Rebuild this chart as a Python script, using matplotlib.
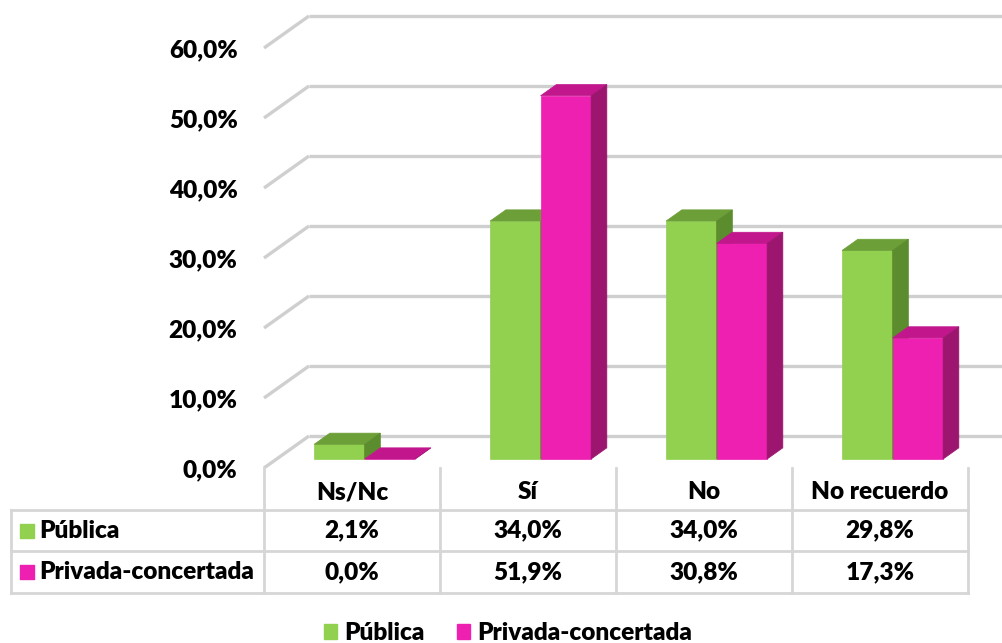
import matplotlib
matplotlib.use("Agg")
import matplotlib.pyplot as plt
from matplotlib.patches import Polygon, Patch

plt.rcParams["font.family"] = ["Lato", "DejaVu Sans"]
plt.rcParams["font.weight"] = "heavy"
FS = 17.6
WT = "heavy"

categories = ["Ns/Nc", "Sí", "No", "No recuerdo"]
series = ["Pública", "Privada-concertada"]
publica = [2.1, 34.0, 34.0, 29.8]
privada = [0.0, 51.9, 30.8, 17.3]
yticks = [0, 10, 20, 30, 40, 50, 60]

# front / top / side shades for each series
shades = {
    "Pública": ("#92d050", "#6c9f38", "#5b8c2d"),
    "Privada-concertada": ("#ee20b1", "#c2168c", "#9c166f"),
}
GRID = "#cfcfcf"

W, H = 1003, 643
fig = plt.figure(figsize=(W / 100, H / 100), dpi=100)


def px_box(l, t, r, b):
    return [l / W, 1 - b / H, (r - l) / W, (b - t) / H]


# plot area: one category = 176 px, 1 % = 7 px
ax = fig.add_axes(px_box(264, 48, 968, 468))
ax.set_xlim(-0.5, 3.5)
ax.set_ylim(0, 60)
ax.patch.set_visible(False)
for s in ax.spines.values():
    s.set_visible(False)
ax.set_xticks([])
ax.set_yticks(yticks)
ax.set_yticklabels([f"{v:.1f}%".replace(".", ",") for v in yticks], fontsize=FS, fontweight=WT)
ax.tick_params(axis="y", length=0, pad=19)

# oblique depth: full depth shifts 45 px right and 32 px up
DX, DY = 45 / 176, 32 / 7
d0, d1 = 0.28, 0.63
bw = 50.5 / 176
x_right = -0.5 + (W - 264) / 176


def shift(pts, d):
    return [(x + d * DX, y + d * DY) for x, y in pts]


# back wall gridlines with the diagonal lead-in on the left
for v in yticks:
    ax.plot([-0.5, -0.5 + DX], [v, v + DY], color=GRID, lw=2.4, clip_on=False, zorder=1,
            solid_capstyle="butt")
    ax.plot([-0.5 + DX, x_right], [v + DY, v + DY], color=GRID, lw=2.4, clip_on=False, zorder=1,
            solid_capstyle="butt")


def bar3d(x0, v, cols):
    front, top, side = cols
    f = shift([(x0, 0), (x0 + bw, 0), (x0 + bw, v), (x0, v)], d0)
    t = shift([(x0, v), (x0 + bw, v)], d0) + shift([(x0 + bw, v), (x0, v)], d1)
    sd = shift([(x0 + bw, 0)], d0) + shift([(x0 + bw, 0), (x0 + bw, v)], d1) + shift([(x0 + bw, v)], d0)
    for pts, c in ((f, front), (t, top), (sd, side)):
        ax.add_patch(Polygon(pts, closed=True, facecolor=c, edgecolor=c, lw=0.5,
                             clip_on=False, zorder=3))


for i in range(len(categories)):
    for k, (name, vals) in enumerate(zip(series, [publica, privada])):
        bar3d(i - bw + k * bw, vals[i], shades[name])

# data table under the plot
xl = -0.5 - 253 / 176
tax = fig.add_axes(px_box(11, 468, 968, 593))
tax.set_xlim(xl, 3.5)
tax.set_ylim(3, 0)
tax.axis("off")
TL = dict(color="#d6d6d6", lw=2, clip_on=False)
for xb in [-0.5, 0.5, 1.5, 2.5, 3.5]:
    tax.plot([xb, xb], [0, 3], **TL)
for yb in [1, 2, 3]:
    tax.plot([xl, 3.5], [yb, yb], **TL)
tax.plot([xl, xl], [1, 3], **TL)

for i, cat in enumerate(categories):
    tax.text(i, 0.58, cat, ha="center", va="center", fontsize=FS, fontweight=WT)
for r, (name, vals) in enumerate(zip(series, [publica, privada])):
    yr = 1.5 + r
    tax.scatter([xl + 16 / 176], [yr], marker="s", s=95, color=shades[name][0], clip_on=False)
    tax.text(xl + 28 / 176, yr, name, ha="left", va="center", fontsize=FS, fontweight=WT)
    for i, v in enumerate(vals):
        tax.text(i, yr, f"{v:.1f}%".replace(".", ","), ha="center", va="center",
                 fontsize=FS, fontweight=WT)

handles = [Patch(color=shades[n][0], label=n) for n in series]
fig.legend(handles=handles, loc="center", bbox_to_anchor=(508 / W, 1 - 633 / H), ncol=2,
           frameon=False, handlelength=0.55, handleheight=0.55, handletextpad=0.3,
           columnspacing=1.3, borderpad=0, prop={"size": FS, "weight": WT})

fig.savefig("out.png", dpi=100, facecolor="white")
